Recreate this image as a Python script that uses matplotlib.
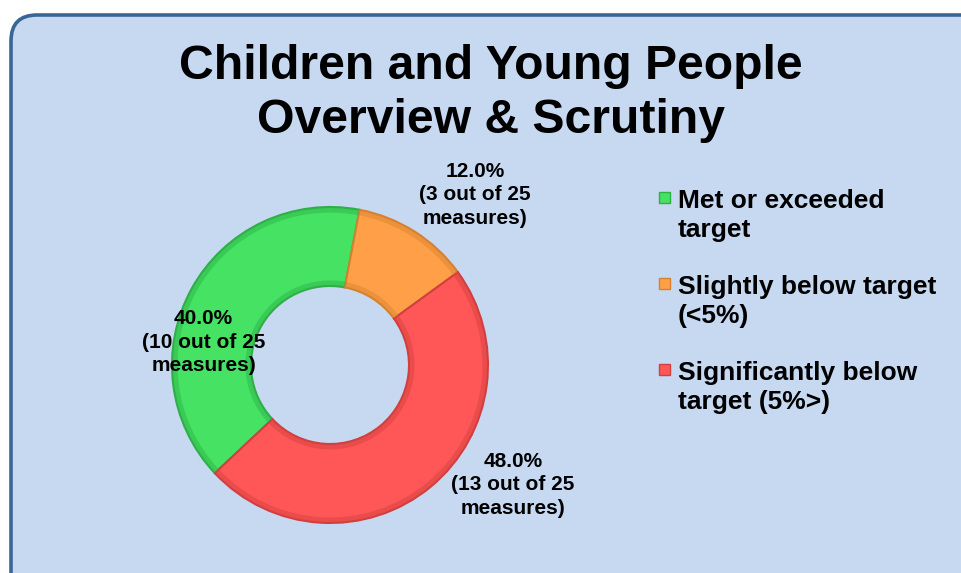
import matplotlib
matplotlib.use("Agg")
import matplotlib.pyplot as plt
from matplotlib.patches import FancyBboxPatch, Rectangle

plt.rcParams['font.family'] = ['Liberation Sans', 'DejaVu Sans']

# data
categories = ['Met or exceeded\ntarget', 'Slightly below target\n(<5%)', 'Significantly below\ntarget (5%>)']
percents = [40.0, 12.0, 48.0]
measure_counts = [10, 3, 13]  # as printed on the chart
total_measures = 25
colors = ['#45E263', '#FFA048', '#FF5757']
edge_colors = ['#2EAF48', '#D7812F', '#D23F3F']

title = 'Children and Young People\nOverview & Scrutiny'

W, H = 961, 573
fig = plt.figure(figsize=(W / 100, H / 100), dpi=100)

# background panel (pixel coords, y down)
bg = fig.add_axes([0, 0, 1, 1])
bg.set_xlim(0, W)
bg.set_ylim(H, 0)
bg.axis('off')
panel = FancyBboxPatch((11, 15), 980, 600, boxstyle='round,pad=0,rounding_size=26',
                       facecolor='#C6D9F1', edgecolor='#3A6597', linewidth=2.6)
bg.add_patch(panel)

# va='baseline' puts the LAST line on y here
bg.text(491, 133, title, ha='center', va='baseline', fontsize=34.7, fontweight='bold',
        linespacing=1.25)

# legend, drawn by hand so the swatch sits on the first line
for i, (lab, col, ec) in enumerate(zip(categories, colors, edge_colors)):
    y1 = 207 + i * 86
    bg.add_patch(Rectangle((659, y1 - 15), 11, 11, facecolor=col, edgecolor=ec, linewidth=1))
    bg.text(678, y1 + 30, lab, ha='left', va='baseline', fontsize=19, fontweight='bold',
            linespacing=1.27)

# donut: 1 data unit = outer radius (158 px), centre at (330, 365) px
R = 158.0
cx, cy = 330.0, 365.0
ax = fig.add_axes([0, 0, 1, 1])
ax.patch.set_visible(False)
wedges, _ = ax.pie(percents, colors=colors, startangle=-136.8, counterclock=False,
                   radius=1.0, wedgeprops=dict(width=0.5, linewidth=1.5))
for w, ec in zip(wedges, edge_colors):
    w.set_edgecolor(ec)
# soft bevel rims at the outer and inner edges
ax.pie(percents, colors=edge_colors, startangle=-136.8, counterclock=False, radius=1.0,
       wedgeprops=dict(width=0.035, linewidth=0, alpha=0.45))
ax.pie(percents, colors=edge_colors, startangle=-136.8, counterclock=False, radius=0.535,
       wedgeprops=dict(width=0.035, linewidth=0, alpha=0.45))
ax.set_xlim(-cx / R, (W - cx) / R)
ax.set_ylim(-(H - cy) / R, cy / R)
ax.set_aspect('auto')
ax.axis('off')

label_pos = [(-0.80, 0.145), (0.918, 1.076), (1.158, -0.759)]
for p, n, (lx, ly) in zip(percents, measure_counts, label_pos):
    ax.text(lx, ly, f'{p:.1f}%\n({n} out of {total_measures}\nmeasures)', ha='center', va='center',
            fontsize=15, fontweight='bold', linespacing=1.32)

fig.savefig('out.png', dpi=100)
